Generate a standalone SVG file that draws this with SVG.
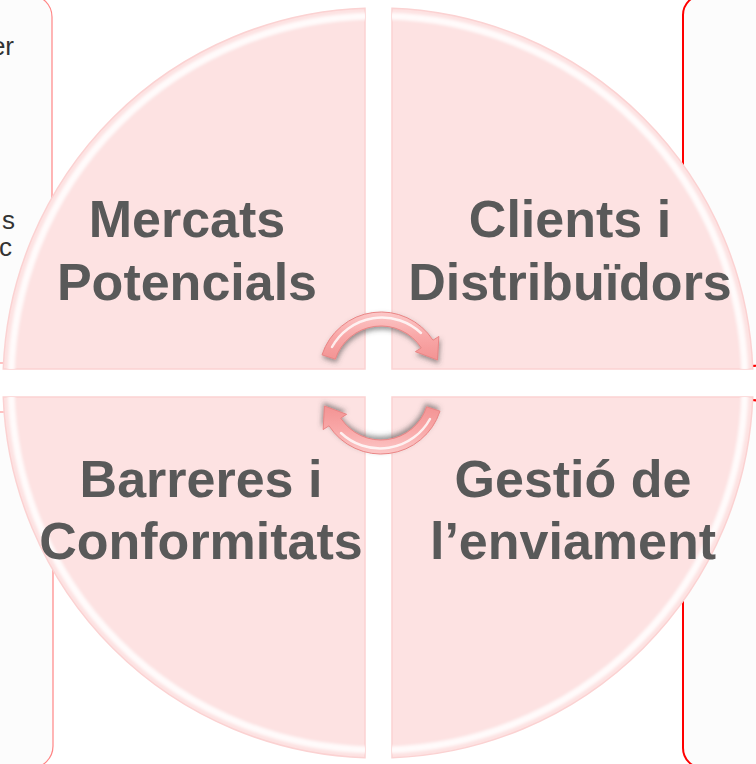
<svg xmlns="http://www.w3.org/2000/svg" width="756" height="764" viewBox="0 0 756 764">
<style>
.box{fill:#fcfcfc}
.boxL{stroke:#ff8585;stroke-width:1.2}
.boxR{stroke:#ff0000;stroke-width:2}
.side{font-family:"Liberation Sans",Arial,sans-serif;font-size:26px;fill:#333333}
.quad{fill:#fde2e2;stroke:#fbd2d2;stroke-width:1.5}
.bevel{fill:none;stroke:#ffffff;stroke-width:7;opacity:0.85}
.lbl{font-family:"Liberation Sans",Arial,Helvetica,sans-serif;font-weight:bold;font-size:52px;fill:#595959;text-anchor:middle}
.arr{fill:url(#ag);stroke:#e98585;stroke-width:1}
.hl{fill:none;stroke:#ffffff;stroke-width:2.5;opacity:0.8;stroke-linecap:round}
</style>
<defs>
<clipPath id="cUL"><path d="M365,369 L365,8.23 A375,375 0 0 0 3.26,369 Z"/></clipPath>
<clipPath id="cUR"><path d="M392,369 L752.74,369 A375,375 0 0 0 392,8.26 Z"/></clipPath>
<clipPath id="cLL"><path d="M365,397 L3.26,397 A375,375 0 0 0 365,757.77 Z"/></clipPath>
<clipPath id="cLR"><path d="M392,397 L392,757.74 A375,375 0 0 0 752.74,397 Z"/></clipPath>
<filter id="blur" x="-5%" y="-5%" width="110%" height="110%"><feGaussianBlur stdDeviation="1.5"/></filter>
<filter id="sh" x="-30%" y="-30%" width="160%" height="160%"><feDropShadow dx="1" dy="3" stdDeviation="2.5" flood-color="#444444" flood-opacity="0.55"/></filter>
<linearGradient id="ag" x1="0" y1="0" x2="0" y2="1">
<stop offset="0" stop-color="#fcc8c8"/>
<stop offset="0.5" stop-color="#f9a8a8"/>
<stop offset="1" stop-color="#f39393"/>
</linearGradient>
<path id="arrowShape" d="M322.03,354.84 A62,62 0 0 1 433,340.23 L438.87,336.42 L437.48,359.98 L415.39,351.67 L421.26,347.86 A48,48 0 0 0 335.35,359.17 Z"/>
</defs>

<g id="box-left-top">
<rect class="box boxL" x="-30" y="-5" width="82" height="368" rx="22"/>
<text class="side" x="14" y="55" text-anchor="end">er</text>
<text class="side" x="15" y="229" text-anchor="end">s</text>
<text class="side" x="12" y="256" text-anchor="end">c</text>
</g>
<g id="box-left-bottom">
<rect class="box boxL" x="-30" y="412" width="83" height="356" rx="22"/>
</g>
<g id="box-right-top">
<rect class="box boxR" x="683" y="-5" width="89" height="371" rx="20"/>
</g>
<g id="box-right-bottom">
<rect class="box boxR" x="683" y="400" width="89" height="368" rx="20"/>
</g>

<g id="q-mercats">
<path class="quad" d="M365,369 L365,8.23 A375,375 0 0 0 3.26,369 Z"/>
<circle class="bevel" cx="378" cy="383" r="367" clip-path="url(#cUL)" filter="url(#blur)"/>
<text class="lbl" x="187" y="237">Mercats</text>
<text class="lbl" x="187" y="300">Potencials</text>
</g>
<g id="q-clients">
<path class="quad" d="M392,369 L752.74,369 A375,375 0 0 0 392,8.26 Z"/>
<circle class="bevel" cx="378" cy="383" r="367" clip-path="url(#cUR)" filter="url(#blur)"/>
<text class="lbl" x="570" y="237">Clients i</text>
<text class="lbl" x="570" y="300">Distribuïdors</text>
</g>
<g id="q-barreres">
<path class="quad" d="M365,397 L3.26,397 A375,375 0 0 0 365,757.77 Z"/>
<circle class="bevel" cx="378" cy="383" r="367" clip-path="url(#cLL)" filter="url(#blur)"/>
<text class="lbl" x="201" y="497">Barreres i</text>
<text class="lbl" x="201" y="559">Conformitats</text>
</g>
<g id="q-gestio">
<path class="quad" d="M392,397 L392,757.74 A375,375 0 0 0 752.74,397 Z"/>
<circle class="bevel" cx="378" cy="383" r="367" clip-path="url(#cLR)" filter="url(#blur)"/>
<text class="lbl" x="573" y="497">Gestió de</text>
<text class="lbl" x="573" y="559">l’enviament</text>
</g>

<g id="connectors">
<g id="arrow-top" filter="url(#sh)">
<use href="#arrowShape" class="arr"/>
<path class="hl" d="M332,347 A57,57 0 0 1 421,333"/>
</g>
<g id="arrow-bottom" filter="url(#sh)" transform="rotate(180 381 383)">
<use href="#arrowShape" class="arr"/>
<path class="hl" d="M332,347 A57,57 0 0 1 421,333"/>
</g>
</g>
</svg>
